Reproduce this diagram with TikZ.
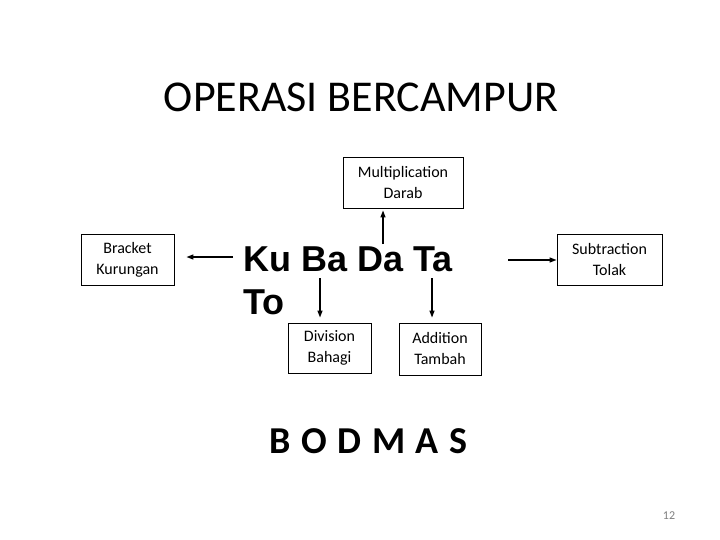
\documentclass[tikz,border=0pt]{standalone}
\usepackage{fontspec}
\setmainfont{Carlito}
\newfontfamily\arialfont{Liberation Sans}
\usetikzlibrary{arrows.meta}
\newcommand{\bgap}{\hspace{10.6pt}}
\begin{document}
\begin{tikzpicture}[x=1pt,y=-1pt,
  box/.style={draw,line width=0.9pt,inner sep=0pt,align=center,
    font=\fontsize{16}{21}\selectfont},
  conn/.style={line width=1.3pt,-{Triangle[length=7pt,width=5pt]}},
]
\useasboundingbox[fill=white] (0,0) rectangle (720,540);
\node[anchor=base,font=\fontsize{44}{50}\selectfont] (title) at (361,112) {OPERASI BERCAMPUR};

\node[box,minimum width=120pt,minimum height=51pt] (mult) at (403,182.5) {Multiplication\\Darab};
\node[box,minimum width=93pt,minimum height=51pt] (brack) at (127.5,259.5) {Bracket\\Kurungan};
\node[box,minimum width=105pt,minimum height=51pt] (sub) at (609.5,259.5) {Subtraction\\Tolak};
\node[box,minimum width=83pt,minimum height=50pt] (div) at (329.5,348) {Division\\Bahagi};
\node[box,minimum width=82pt,minimum height=52pt] (add) at (440,349) {Addition\\Tambah};

\node[anchor=north west,inner sep=0pt,align=left,
  font=\arialfont\bfseries\fontsize{36}{43}\selectfont] (kbdt) at (243,247) {Ku Ba Da Ta\\To};

\coordinate (upS) at (383,244);
\coordinate (leftS) at (233,257);
\coordinate (rightS) at (508,260);
\coordinate (divS) at (320,278);
\coordinate (addS) at (432,278);

\draw[conn,shorten >=2pt] (upS) -- (upS |- mult.south);
\draw[conn,shorten >=12pt] (leftS) -- (leftS -| brack.east);
\draw[conn] (rightS) -- (rightS -| sub.west);
\draw[conn,shorten >=5pt] (divS) -- (divS |- div.north);
\draw[conn,shorten >=5pt] (addS) -- (addS |- add.north);

\node[anchor=base,font=\bfseries\fontsize{38}{44}\selectfont] (bodmas) at (368.5,453) {B\bgap O\bgap D\bgap M\bgap A\bgap S};
\node[anchor=base,text=gray,font=\fontsize{12}{14}\selectfont] (page) at (669,519) {12};
\end{tikzpicture}
\end{document}
